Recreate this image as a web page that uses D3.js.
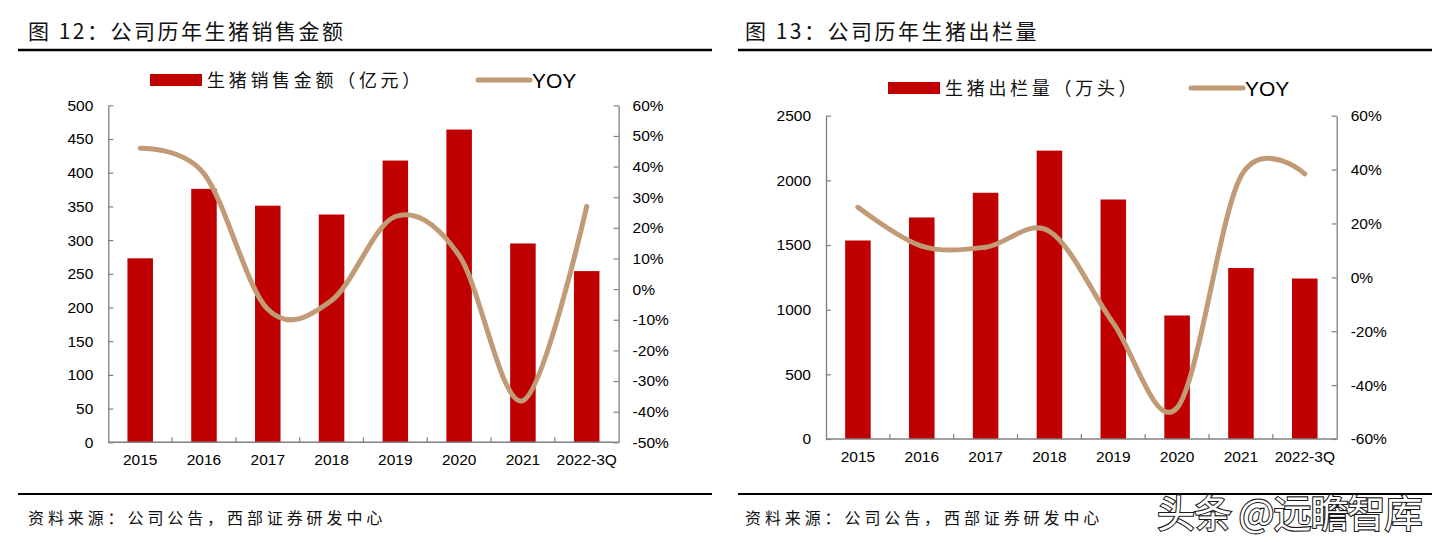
<!DOCTYPE html>
<html><head><meta charset="utf-8">
<script src="https://cdn.jsdelivr.net/npm/d3@7/dist/d3.min.js"></script>
<style>body{margin:0;background:#fff} svg{display:block}</style>
</head><body><svg id="c" width="1439" height="542"></svg>
<script>
// ---- data ----
const categories = ["2015", "2016", "2017", "2018", "2019", "2020", "2021", "2022-3Q"];
const salesValues = [273, 376, 351, 338, 418, 464, 295, 254];          // 亿元
const salesYoy = [46, 37.7, -6.6, -3.7, 23.7, 11, -36.4, 27];          // %
const salesTicks = [0, 50, 100, 150, 200, 250, 300, 350, 400, 450, 500];
const salesYoyTicks = [-50, -40, -30, -20, -10, 0, 10, 20, 30, 40, 50, 60];
const volumeValues = [1535, 1713, 1904, 2230, 1852, 955, 1322, 1241];   // 万头
const volumeYoy = [26, 11.6, 11.2, 17.1, -17, -48.4, 37.5, 38.4];      // %
const volumeTicks = [0, 500, 1000, 1500, 2000, 2500];
const volumeYoyTicks = [-60, -40, -20, 0, 20, 40, 60];
const titles = ["图 12：公司历年生猪销售金额", "图 13：公司历年生猪出栏量"];
const barLegends = ["生猪销售金额（亿元）", "生猪出栏量（万头）"];
const lineLegend = "YOY";
const sourceText = "资料来源：公司公告，西部证券研发中心";
const watermark = "头条 @远瞻智库";

// ---- style ----
const BAR = "#C00000", LINE = "#C19B75", AXIS = "#808080";
const NUM_FONT = "'Liberation Sans', Arial, sans-serif";
const CJK_FONT = "'Noto Sans CJK SC', 'Noto Sans', sans-serif";

const svg = d3.select("#c");

function panel(o) {
  const g = svg.append("g");
  // title + rules
  g.append("text").attr("x", o.titleX).attr("y", 39)
    .attr("font-family", CJK_FONT).attr("font-size", 21).attr("letter-spacing", 2.5)
    .attr("fill", "#111").text(o.title);
  g.append("line").attr("x1", o.ruleX0).attr("x2", o.ruleX1).attr("y1", 50).attr("y2", 50)
    .attr("stroke", "#000").attr("stroke-width", 2.5);
  g.append("line").attr("x1", o.ruleX0).attr("x2", o.ruleX1).attr("y1", 494).attr("y2", 494)
    .attr("stroke", "#000").attr("stroke-width", 2);
  g.append("text").attr("x", o.titleX).attr("y", 524)
    .attr("font-family", CJK_FONT).attr("font-size", 16).attr("letter-spacing", 3.9)
    .attr("fill", "#111").text(sourceText);

  const x = d3.scaleBand().domain(categories).range([o.x0, o.x1]).paddingInner(0.6).paddingOuter(0.3);
  const xb = d3.scaleLinear().domain([0, categories.length]).range([o.x0, o.x1]);
  const yL = d3.scaleLinear().domain([o.leftTicks[0], o.leftTicks[o.leftTicks.length - 1]]).range([o.y1, o.y0]);
  const yR = d3.scaleLinear().domain([o.rightTicks[0], o.rightTicks[o.rightTicks.length - 1]]).range([o.y1, o.y0]);

  // bars
  g.append("g").selectAll("rect").data(o.values).join("rect")
    .attr("x", (d, i) => x(categories[i])).attr("width", x.bandwidth())
    .attr("y", d => yL(d)).attr("height", d => yL(0) - yL(d))
    .attr("fill", BAR);

  // axes
  const ax = (sel) => {
    sel.selectAll(".domain").attr("stroke", AXIS).attr("stroke-width", 1.3);
    sel.selectAll(".tick line").attr("stroke", AXIS).attr("stroke-width", 1.2);
    sel.selectAll("text").attr("font-family", NUM_FONT).attr("font-size", 15.5).attr("fill", "#000");
  };
  g.append("g").attr("transform", `translate(${o.x0},0)`)
    .call(d3.axisLeft(yL).tickValues(o.leftTicks).tickSizeInner(-5).tickSizeOuter(0).tickPadding(15).tickFormat(d3.format("d")))
    .call(ax);
  g.append("g").attr("transform", `translate(${o.x1},0)`)
    .call(d3.axisRight(yR).tickValues(o.rightTicks).tickSizeInner(-5).tickSizeOuter(0).tickPadding(14).tickFormat(d => d + "%"))
    .call(ax);
  // x axis: labels + boundary ticks
  const xa = g.append("g").attr("transform", `translate(0,${o.y1})`)
    .call(d3.axisBottom(x).tickSize(0).tickPadding(12)).call(ax);
  xa.select(".domain").remove();
  g.append("line").attr("x1", o.x0).attr("x2", o.x1).attr("y1", o.y1).attr("y2", o.y1)
    .attr("stroke", AXIS).attr("stroke-width", 1.5);
  g.append("g").selectAll("line").data(d3.range(1, categories.length)).join("line")
    .attr("x1", d => xb(d)).attr("x2", d => xb(d)).attr("y1", o.y1).attr("y2", o.y1 - 5)
    .attr("stroke", AXIS).attr("stroke-width", 1.2);

  // line
  const line = d3.line()
    .x((d, i) => x(categories[i]) + x.bandwidth() / 2)
    .y(d => yR(d))
    .curve(d3.curveCardinal.tension(0));
  g.append("path").attr("d", line(o.yoy)).attr("fill", "none")
    .attr("stroke", LINE).attr("stroke-width", 5).attr("stroke-linecap", "round");

  // legend
  const ly = o.legendY;
  g.append("rect").attr("x", o.legX).attr("y", ly - 6).attr("width", 52).attr("height", 12).attr("fill", BAR);
  g.append("text").attr("x", o.legX + 57).attr("y", ly + 6.5)
    .attr("font-family", CJK_FONT).attr("font-size", 18).attr("letter-spacing", 3.7)
    .attr("fill", "#111").text(o.legend);
  g.append("line").attr("x1", o.legLineX).attr("x2", o.legLineX + 52).attr("y1", ly).attr("y2", ly)
    .attr("stroke", LINE).attr("stroke-width", 5).attr("stroke-linecap", "round");
  g.append("text").attr("x", o.legLineX + 54).attr("y", ly + 7.5)
    .attr("font-family", NUM_FONT).attr("font-size", 21).attr("fill", "#000").text(lineLegend);
}

panel({
  title: titles[0], legend: barLegends[0], values: salesValues, yoy: salesYoy,
  leftTicks: salesTicks, rightTicks: salesYoyTicks,
  titleX: 28, ruleX0: 18, ruleX1: 712,
  x0: 108.3, x1: 618.6, y0: 105.3, y1: 442.3,
  legendY: 80, legX: 150, legLineX: 478
});
panel({
  title: titles[1], legend: barLegends[1], values: volumeValues, yoy: volumeYoy,
  leftTicks: volumeTicks, rightTicks: volumeYoyTicks,
  titleX: 745, ruleX0: 738, ruleX1: 1432,
  x0: 826, x1: 1336.7, y0: 115.7, y1: 439,
  legendY: 88, legX: 888, legLineX: 1191
});

// watermark
svg.append("text").attr("x", 1157).attr("y", 527)
  .attr("font-family", CJK_FONT).attr("font-size", 38).attr("letter-spacing", -1)
  .attr("fill", "#fff").attr("stroke", "#1a1a1a").attr("stroke-width", 2.2)
  .attr("paint-order", "stroke").text(watermark);
</script>
</body></html>
